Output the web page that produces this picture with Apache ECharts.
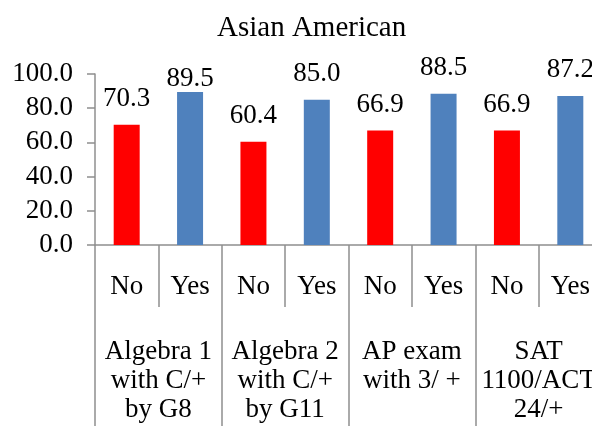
<!DOCTYPE html>
<html>
<head>
<meta charset="utf-8">
<script src="https://cdn.jsdelivr.net/npm/echarts@6/dist/echarts.min.js"></script>
<style>
  html, body { margin: 0; padding: 0; background: #fff; }
  #chart { width: 592px; height: 426px; }
</style>
</head>
<body>
<div id="chart"></div>
<script>
// Outcome groups (outer axis) and the No/Yes split within each (inner axis)
const groups = [
  'Algebra 1\nwith C/+\nby G8',
  'Algebra 2\nwith C/+\nby G11',
  'AP exam\nwith 3/ +',
  'SAT\n1100/ACT\n24/+'
];
const subCategories = ['No', 'Yes', 'No', 'Yes', 'No', 'Yes', 'No', 'Yes'];
const values = [70.3, 89.5, 60.4, 85.0, 66.9, 88.5, 66.9, 87.2];
const yTicks = [0, 20, 40, 60, 80, 100];

const FONT = "'Liberation Serif', 'Times New Roman', serif";
const AXIS_COLOR = '#8f8f8f';
const COLORS = { No: '#ff0000', Yes: '#4f81bd' };
const LABEL_DISTANCE = 12;
// the label of the second bar sits closer to its bar
const labelDistanceAt = i => (i === 1 ? 0 : LABEL_DISTANCE);

const chart = echarts.init(document.getElementById('chart'), null, { renderer: 'canvas' });

chart.setOption({
  backgroundColor: '#ffffff',
  animation: false,
  title: {
    text: 'Asian American',
    left: 212,
    top: 9,
    textStyle: { fontFamily: FONT, fontSize: 29, fontWeight: 'normal', color: '#000' }
  },
  grid: { left: 95, top: 74, width: 507, height: 171, outerBoundsMode: 'none' },
  xAxis: [
    {
      type: 'category',
      data: subCategories,
      position: 'bottom',
      axisLine: { show: true, lineStyle: { color: AXIS_COLOR, width: 1.5 } },
      axisTick: { show: true, interval: 0, length: 62, lineStyle: { color: AXIS_COLOR, width: 1.5 } },
      axisLabel: {
        interval: 0, margin: 28, fontFamily: FONT, fontSize: 27, color: '#000', lineHeight: 28
      }
    },
    {
      type: 'category',
      data: groups,
      position: 'bottom',
      axisLine: { show: false },
      axisTick: { show: true, interval: 0, length: 190, lineStyle: { color: AXIS_COLOR, width: 1.5 } },
      axisLabel: {
        interval: 0, margin: 92, fontFamily: FONT, fontSize: 27, color: '#000',
        lineHeight: 29, align: 'center'
      }
    }
  ],
  yAxis: {
    type: 'value',
    min: yTicks[0],
    max: yTicks[yTicks.length - 1],
    interval: 20,
    splitLine: { show: false },
    axisLine: { show: true, lineStyle: { color: AXIS_COLOR, width: 1.5 } },
    axisTick: { show: true, length: 8, lineStyle: { color: AXIS_COLOR, width: 1.5 } },
    axisLabel: {
      margin: 22, fontFamily: FONT, fontSize: 27, color: '#000',
      formatter: v => v.toFixed(1)
    }
  },
  series: [
    {
      type: 'bar',
      xAxisIndex: 0,
      barWidth: 26,
      data: values.map((v, i) => ({
        value: v,
        itemStyle: { color: COLORS[subCategories[i]] },
        label: { distance: labelDistanceAt(i) }
      })),
      label: {
        show: true,
        position: 'top',
        distance: LABEL_DISTANCE,
        fontFamily: FONT,
        fontSize: 27,
        color: '#000',
        formatter: p => p.value.toFixed(1)
      }
    }
  ]
});
</script>
</body>
</html>
